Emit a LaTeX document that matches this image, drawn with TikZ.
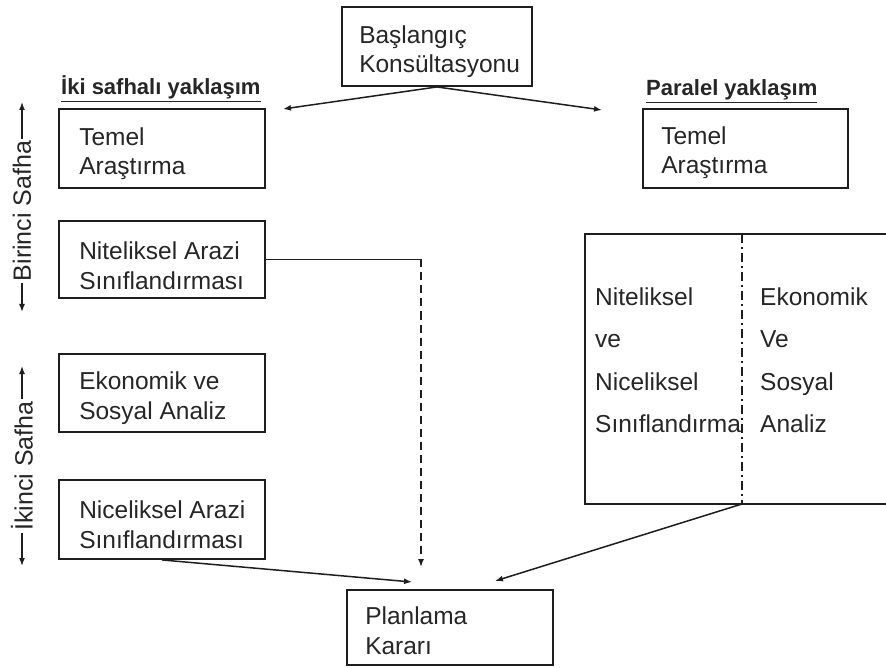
\documentclass[tikz,border=0pt]{standalone}
\usepackage{fontspec}
\setmainfont{Liberation Sans}
\usetikzlibrary{arrows.meta}
\definecolor{ink}{HTML}{1E1E1E}
\definecolor{txt}{HTML}{262626}
\begin{document}
\begin{tikzpicture}[x=1pt,y=-1pt,
  box/.style={draw=ink, line width=1.9pt, rectangle, inner sep=0pt},
  lbox/.style={box, minimum width=206pt, minimum height=78pt},
  btext/.style={align=left, text=txt, inner sep=0pt, anchor=west,
    font=\fontsize{24.5}{29.5}\selectfont},
  coltext/.style={align=left, text=txt, inner sep=0pt, anchor=west, font=\fontsize{24.5}{42.5}\selectfont},
  head/.style={text=txt, inner sep=0pt, font=\fontsize{22}{26}\bfseries},
  vlabel/.style={text=txt, inner sep=2pt, rotate=90, font=\fontsize{25}{28}\selectfont},
  conn/.style={draw=ink, line width=1.5pt},
  arr/.style={conn, -{Latex[length=8pt,width=6pt]}},
  dashline/.style={dash pattern=on 8pt off 5pt},
  dashdotline/.style={draw=ink, line width=1.9pt, dash pattern=on 9pt off 4pt on 2pt off 4pt}
]
\clip (0,0) rectangle (886,668);
\fill[white] (0,0) rectangle (886,668);

% top
\node[box, minimum width=190pt, minimum height=79pt] (bas) at (437,46.5) {};
\node[btext] (bast) at ([xshift=18pt, yshift=-5pt]bas.west) {Başlangıç\\Konsültasyonu};

% headings
\node[head, anchor=base west] (h1) at (61,95) {\underline{İki safhalı yaklaşım}};
\node[head, anchor=base west] (h2) at (646,96) {\underline{Paralel yaklaşım}};

% left column
\node[lbox, minimum height=79pt] (tem1) at (162,148.5) {};
\node[btext] (tem1t) at ([xshift=21pt, yshift=-5pt]tem1.west) {Temel\\Araştırma};
\node[lbox, minimum height=77pt] (nit) at (162,259.5) {};
\node[btext] (nitt) at ([xshift=21pt, yshift=-6pt]nit.west) {Niteliksel Arazi\\Sınıflandırması};
\node[lbox] (eko) at (162,393) {};
\node[btext] (ekot) at ([xshift=21pt, yshift=-5pt]eko.west) {Ekonomik ve\\Sosyal Analiz};
\node[lbox, minimum height=79pt] (nic) at (162,519.5) {};
\node[btext] (nict) at ([xshift=21pt, yshift=-5pt]nic.west) {Niceliksel Arazi\\Sınıflandırması};

% right column
\node[box, minimum width=205pt, minimum height=79pt] (tem2) at (745.5,148.5) {};
\node[btext] (tem2t) at ([xshift=19pt, yshift=-4pt]tem2.west) {Temel\\Araştırma};

\node[box, minimum width=320pt, minimum height=270pt] (big) at (745,369) {};
\coordinate (dtop) at (742,234);
\coordinate (dbot) at (742,504);
\draw[dashdotline] (dtop) -- (dbot);
\node[coltext] (c1) at (595,360) {Niteliksel\\ve\\Niceliksel\\Sınıflandırma};
\node[coltext] (c2) at (760,360) {Ekonomik\\Ve\\Sosyal\\Analiz};

% bottom
\node[box, minimum width=206pt, minimum height=75pt] (plan) at (450,627.5) {};
\node[btext] (plant) at ([xshift=19pt, yshift=-3pt]plan.west) {Planlama\\Kararı};

% vertical labels
\node[vlabel] (bs) at (22,211) {Birinci Safha};
\coordinate (bs1) at (22,102);
\coordinate (bs2) at (22,312);
\draw[arr] (bs.east) -- (bs1);
\draw[arr] (bs.west) -- (bs2);
\node[vlabel] (is) at (22,466) {İkinci Safha};
\coordinate (is1) at (22,366);
\coordinate (is2) at (22,566);
\draw[arr] (is.east) -- (is1);
\draw[arr] (is.west) -- (is2);

% connectors
\coordinate (lt) at (283,109);
\coordinate (rt) at (602,110);
\draw[arr] (bas.south) -- (lt);
\draw[arr] (bas.south) -- (rt);

\coordinate (corner) at (421,259.5);
\coordinate (dtip) at (421,567);
\draw[conn] (nit.east) -- (corner);
\draw[arr, dashline] (corner) -- (dtip);

\coordinate (ltip) at (412,582);
\draw[arr] (nic.south) -- (ltip);
\coordinate (rtip) at (495,581);
\draw[arr] (dbot) -- (rtip);
\end{tikzpicture}
\end{document}
